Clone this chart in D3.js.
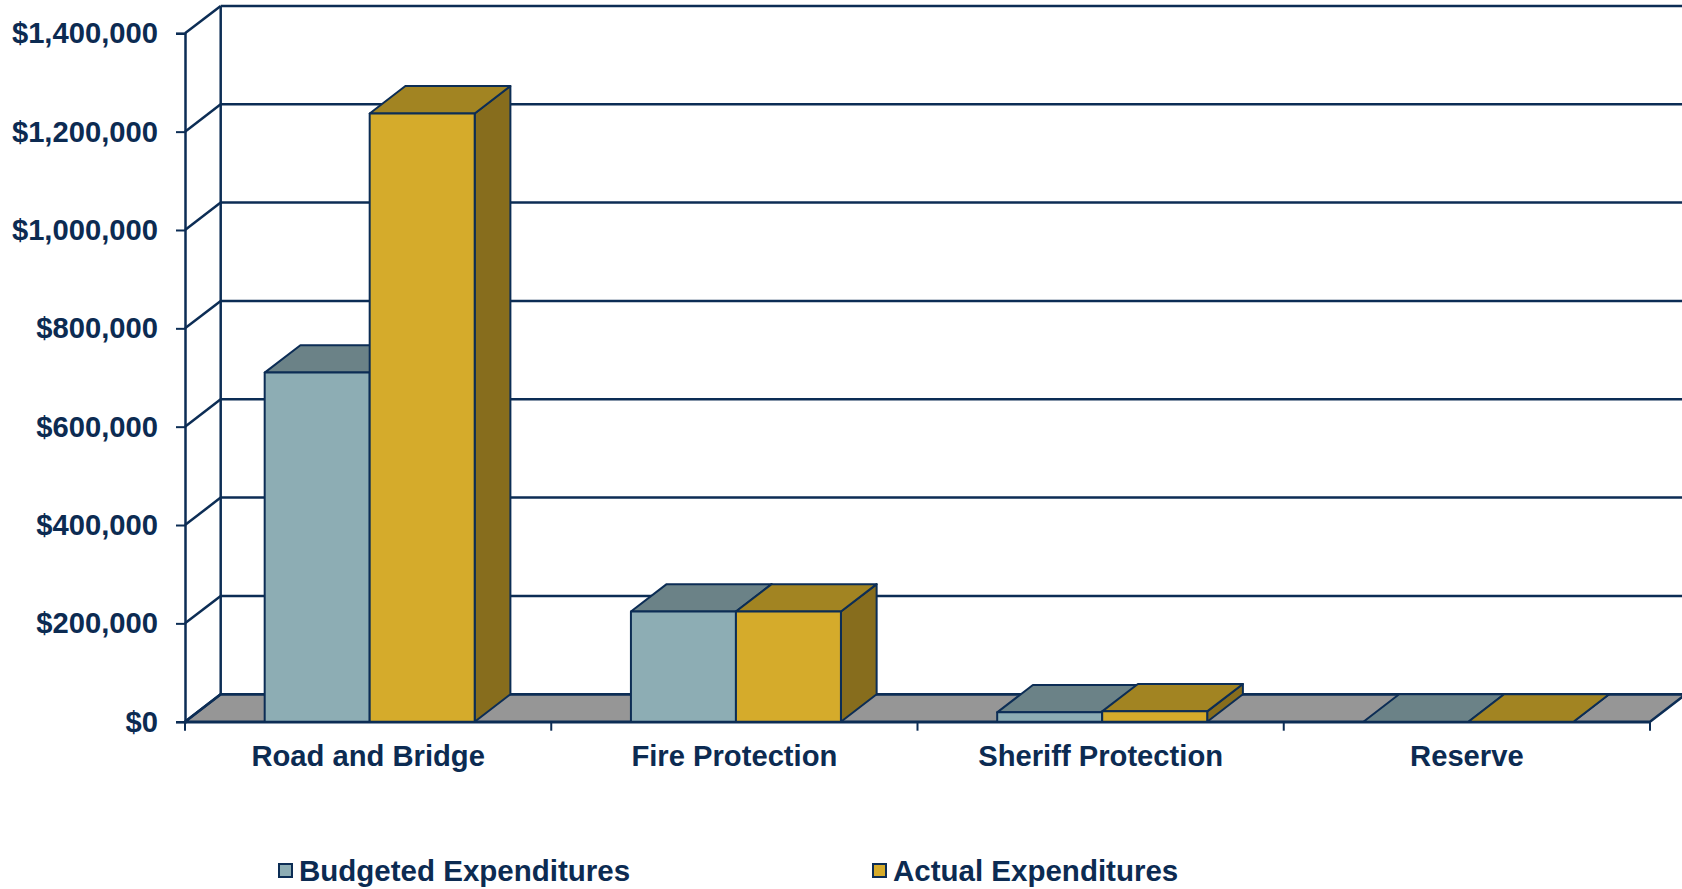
<!DOCTYPE html>
<html>
<head>
<meta charset="utf-8">
<script src="https://cdn.jsdelivr.net/npm/d3@7"></script>
<style>
	body { margin: 0; background: #fff; }
	text { font-family: "Liberation Sans", Arial, sans-serif; font-weight: bold; fill: #0c2b52; }
</style>
</head>
<body>
<div id="chart"></div>
<script>
// data
var categories = ["Road and Bridge", "Fire Protection", "Sheriff Protection", "Reserve"];
var seriesNames = ["Budgeted Expenditures", "Actual Expenditures"];
var budgeted = [710000, 224000, 19000, 0];
var actual = [1237000, 224000, 21000, 0];
var yTicks = [0, 200000, 400000, 600000, 800000, 1000000, 1200000, 1400000];

(function() {
	var width = 1682,
		height = 889;

	var navy = "#0c2d55";
	var colors = {
		"Budgeted Expenditures": { front: "#8dadb4", top: "#6b8287", side: "#5b7075" },
		"Actual Expenditures": { front: "#d5ab2b", top: "#a28422", side: "#876d1d" }
	};

	// 3d depth offset
	var dx = 35.7,
		dy = 27.4;

	var left = 185, right = 1650, top = 33.3, bottom = 721.7;

	var svg = d3.select("#chart")
		.append("svg")
		.attr("width", width)
		.attr("height", height);

	var y = d3.scaleLinear()
		.domain([0, 1400000])
		.range([bottom, top]);

	var x0 = d3.scaleBand()
		.domain(categories)
		.range([left, right])
		.padding(0);

	var x1 = d3.scaleBand()
		.domain(seriesNames)
		.range([0, x0.bandwidth()])
		.paddingInner(0)
		.paddingOuter(0.744)
		.align(0.51);

	var rows = categories.map(function(c, i) {
		return { category: c, values: [
			{ series: seriesNames[0], value: budgeted[i] },
			{ series: seriesNames[1], value: actual[i] }
		] };
	});

	// floor
	svg.append("path")
		.attr("d", "M" + left + "," + y(0) + "L" + right + "," + y(0) +
			"L" + (right + dx) + "," + (y(0) - dy) + "L" + (left + dx) + "," + (y(0) - dy) + "Z")
		.attr("fill", "#969696")
		.attr("stroke", navy)
		.attr("stroke-width", 2.5)
		.attr("stroke-linejoin", "round");

	// back wall gridlines + left wall diagonals
	var grid = svg.append("g").attr("class", "grid");
	grid.selectAll(".back")
		.data(yTicks)
		.enter().append("line")
		.attr("x1", left + dx)
		.attr("x2", width + 10)
		.attr("y1", function(d) { return y(d) - dy; })
		.attr("y2", function(d) { return y(d) - dy; })
		.attr("stroke", navy)
		.attr("stroke-width", 2.5);
	grid.selectAll(".side")
		.data(yTicks)
		.enter().append("line")
		.attr("x1", left)
		.attr("x2", left + dx)
		.attr("y1", function(d) { return y(d); })
		.attr("y2", function(d) { return y(d) - dy; })
		.attr("stroke", navy)
		.attr("stroke-width", 2.5);
	grid.append("line")
		.attr("x1", left + dx).attr("x2", left + dx)
		.attr("y1", y(1400000) - dy).attr("y2", y(0) - dy)
		.attr("stroke", navy)
		.attr("stroke-width", 2.5);

	// bars
	var groups = svg.selectAll(".cat")
		.data(rows)
		.enter().append("g")
		.attr("class", "cat")
		.attr("transform", function(d) { return "translate(" + x0(d.category) + ",0)"; });

	var bars = groups.selectAll(".bar")
		.data(function(d) { return d.values; })
		.enter().append("g")
		.attr("class", "bar");

	bars.each(function(d) {
		var g = d3.select(this);
		var xa = x1(d.series), xb = xa + x1.bandwidth();
		var yv = y(d.value), yz = y(0);
		var c = colors[d.series];
		g.append("path")
			.attr("d", "M" + xb + "," + yv + "L" + (xb + dx) + "," + (yv - dy) +
				"L" + (xb + dx) + "," + (yz - dy) + "L" + xb + "," + yz + "Z")
			.attr("fill", c.side);
		g.append("path")
			.attr("d", "M" + xa + "," + yv + "L" + (xa + dx) + "," + (yv - dy) +
				"L" + (xb + dx) + "," + (yv - dy) + "L" + xb + "," + yv + "Z")
			.attr("fill", c.top);
		if (d.value > 0) {
			g.append("rect")
				.attr("x", xa)
				.attr("y", yv)
				.attr("width", x1.bandwidth())
				.attr("height", yz - yv)
				.attr("fill", c.front);
		}
		g.selectAll("path, rect")
			.attr("stroke", navy)
			.attr("stroke-width", 2)
			.attr("stroke-linejoin", "round");
	});

	// y axis
	var yAxis = svg.append("g")
		.attr("transform", "translate(" + left + ",0)")
		.call(d3.axisLeft(y)
			.tickValues(yTicks)
			.tickSize(9)
			.tickPadding(18)
			.tickFormat(d3.format("$,")));
	yAxis.select(".domain").attr("stroke", navy).attr("stroke-width", 2.5);
	yAxis.selectAll(".tick line").attr("stroke", navy).attr("stroke-width", 2);
	yAxis.selectAll("text")
		.attr("font-size", 29.2)
		.attr("font-family", null)
		.attr("fill", "#0c2b52");

	// x axis: labels centred, ticks on category boundaries
	var xAxis = svg.append("g")
		.attr("transform", "translate(0," + bottom + ")")
		.call(d3.axisBottom(x0).tickSize(0).tickPadding(23.7));
	xAxis.select(".domain").attr("stroke", navy).attr("stroke-width", 2.5);
	xAxis.selectAll("text")
		.attr("font-size", 29.2)
		.attr("font-family", null)
		.attr("fill", "#0c2b52");

	var bounds = categories.map(function(c) { return x0(c); }).concat([right]);
	svg.selectAll(".xtick")
		.data(bounds)
		.enter().append("line")
		.attr("x1", function(d) { return d; })
		.attr("x2", function(d) { return d; })
		.attr("y1", bottom)
		.attr("y2", bottom + 9)
		.attr("stroke", navy)
		.attr("stroke-width", 2);

	// legend
	var legendX = [279, 873];
	var legend = svg.selectAll(".legend")
		.data(seriesNames)
		.enter().append("g")
		.attr("class", "legend")
		.attr("transform", function(d, i) { return "translate(" + legendX[i] + ",864)"; });
	legend.append("rect")
		.attr("width", 13)
		.attr("height", 13)
		.attr("fill", function(d) { return colors[d].front; })
		.attr("stroke", navy)
		.attr("stroke-width", 2);
	legend.append("text")
		.attr("x", 20)
		.attr("y", 17)
		.attr("font-size", 29.5)
		.text(function(d) { return d; });
})();
</script>
</body>
</html>
